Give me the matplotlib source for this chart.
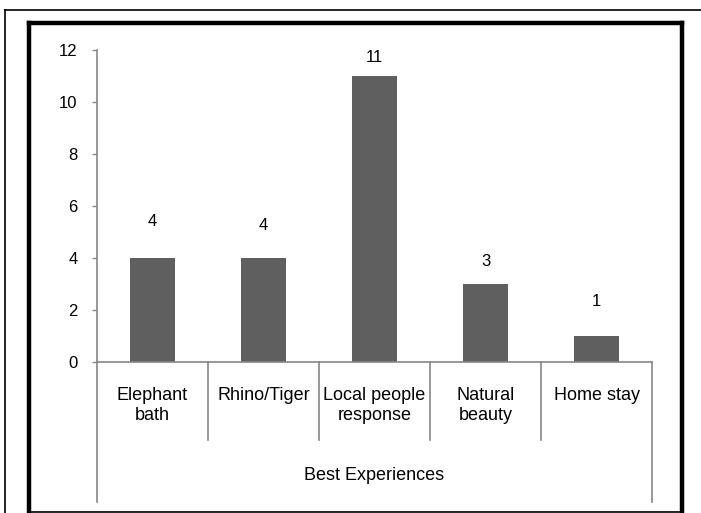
import numpy as np
import matplotlib
matplotlib.use("Agg")
import matplotlib.pyplot as plt
from matplotlib.lines import Line2D

plt.rcParams["font.family"] = ["Liberation Sans", "DejaVu Sans"]

# -----------------------------
# Data
# -----------------------------
categories = ["Elephant\nbath", "Rhino/Tiger", "Local people\nresponse", "Natural\nbeauty", "Home stay"]
counts = [4, 4, 11, 3, 1]
group_label = "Best Experiences"
yticks = [0, 2, 4, 6, 8, 10, 12]

# label gap above bar tops (pixels), as placed in the original
label_gap = [37, 32, 19, 22, 35]

W, H = 701, 513
bar_color = "#5f5f5f"
axis_gray = "#868686"

fig = plt.figure(figsize=(W / 100, H / 100), dpi=100)

# axes spans x 97..652 px, y 50..362 px
ax = fig.add_axes([97 / W, 1 - 362 / H, (652 - 97) / W, (362 - 50) / H])
n = len(categories)
x = np.arange(n)
ax.bar(x, counts, width=0.4, color=bar_color, zorder=2)
ax.set_xlim(-0.5, n - 0.5)
ax.set_ylim(0, 12)
ax.set_yticks(yticks)
ax.set_yticklabels([str(v) for v in yticks], fontsize=12)
ax.tick_params(axis="y", direction="out", length=3.6, width=1, color=axis_gray, pad=10.5)
ax.set_xticks([])
for s in ["top", "right"]:
    ax.spines[s].set_visible(False)
for s in ["left", "bottom"]:
    ax.spines[s].set_color(axis_gray)
    ax.spines[s].set_linewidth(1.2)

for i, v in enumerate(counts):
    ax.annotate(str(v), (x[i], v), xytext=(0, label_gap[i]), textcoords="offset pixels",
                ha="center", va="center", fontsize=12)

# category labels and separators below the axis (axes-x / pixel-y blend)
trans = ax.get_xaxis_transform()
ax_h = 362 - 50
def py(p):
    # pixel row -> axes fraction
    return (362 - p) / ax_h

for i, c in enumerate(categories):
    ax.text(x[i], py(387), c, transform=trans, ha="center", va="top",
            fontsize=13, linespacing=1.2, clip_on=False)
for b in range(n + 1):
    xb = b - 0.5
    bottom = 502 if b in (0, n) else 440
    ax.add_line(Line2D([xb, xb], [0, py(bottom)], transform=trans, color=axis_gray,
                       lw=1.2, clip_on=False))
ax.text((n - 1) / 2, py(475), group_label, transform=trans, ha="center", va="center",
        fontsize=13, clip_on=False)

# frame around the chart
ov = fig.add_axes([0, 0, 1, 1], zorder=-1)
ov.set_xlim(0, W)
ov.set_ylim(H, 0)
ov.axis("off")
ov.plot([4.5, W], [9.5, 9.5], color="black", lw=1.2)
ov.plot([4.5, 4.5], [9.5, H], color="black", lw=1.2)
ov.plot([29, 29], [22.5, 511.5], color="black", lw=3.2, solid_capstyle="projecting")
ov.plot([29, 682], [22.5, 22.5], color="black", lw=3.2, solid_capstyle="projecting")
ov.plot([682, 682], [22.5, 511.5], color="black", lw=3.2, solid_capstyle="projecting")
ov.plot([29, 682], [511.5, 511.5], color="black", lw=1.2)

fig.savefig("out.png", dpi=100)
